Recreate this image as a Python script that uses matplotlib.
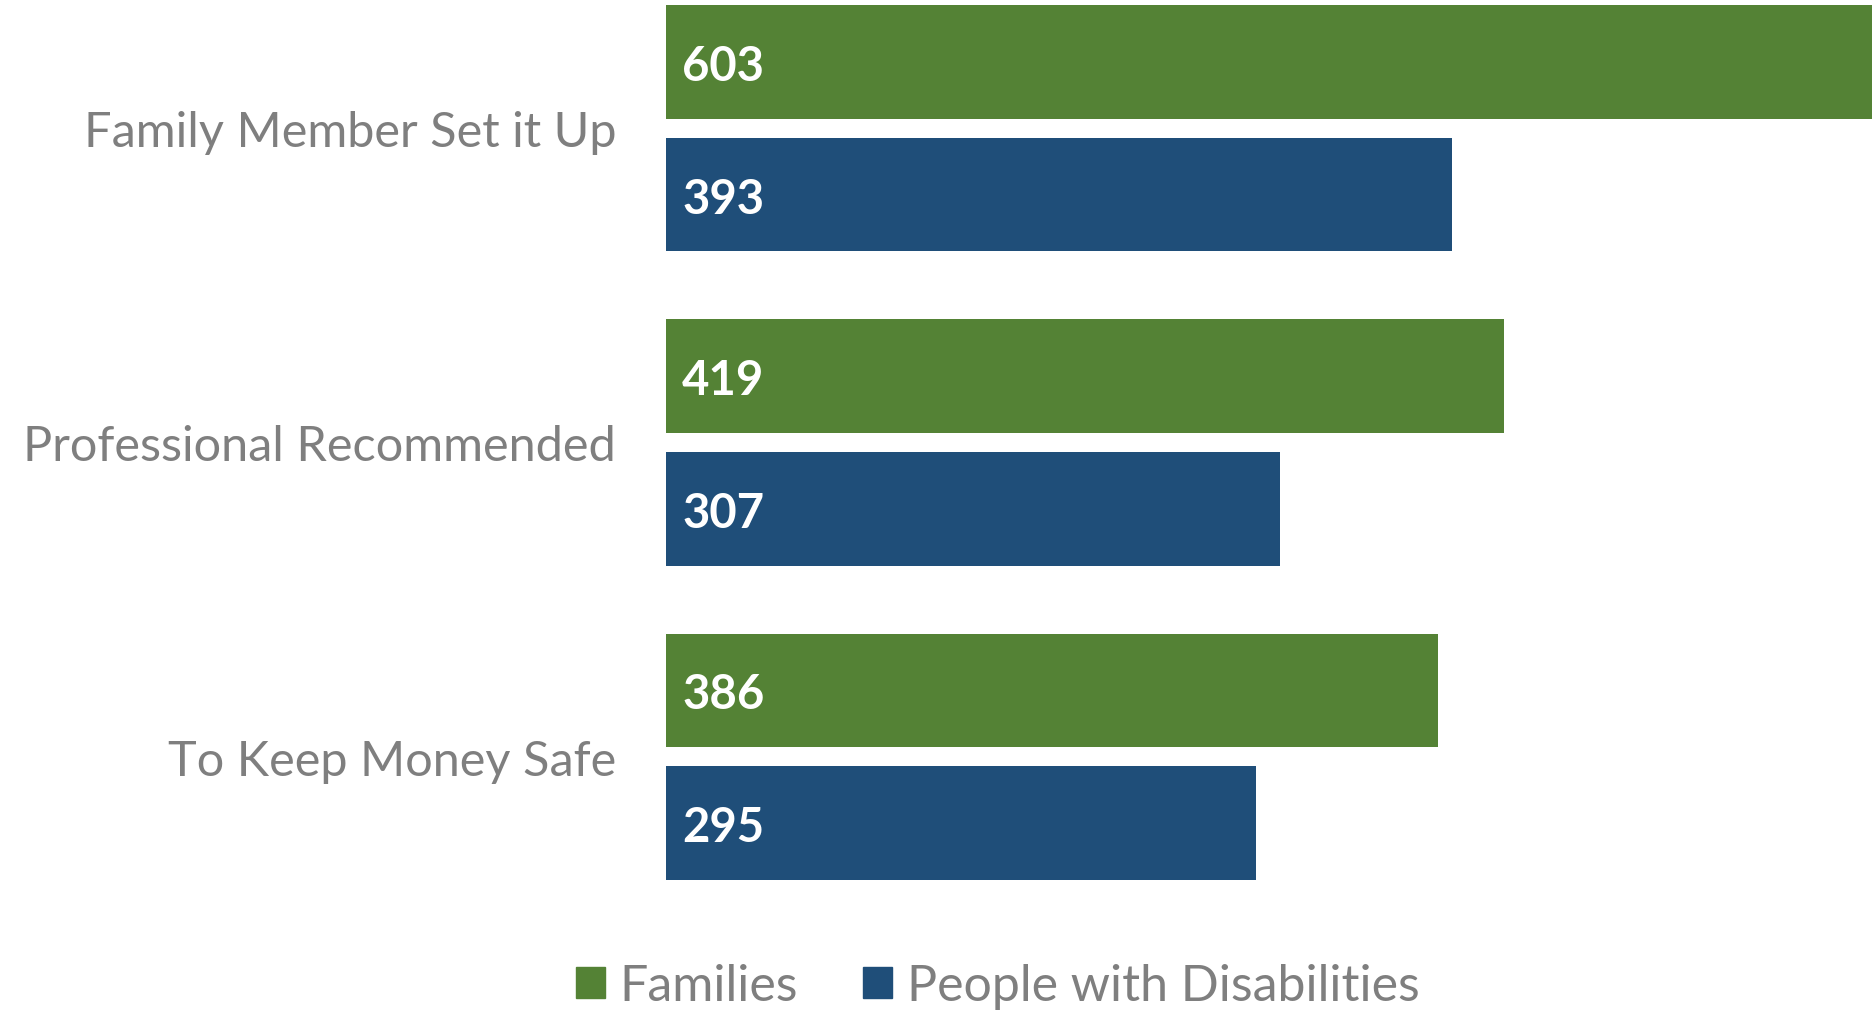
import numpy as np
import matplotlib
matplotlib.use('Agg')
import matplotlib.pyplot as plt
from matplotlib.patches import Patch

# ---------------------------------------------------------------------------
# data
# ---------------------------------------------------------------------------
categories = ['Family Member Set it Up', 'Professional Recommended', 'To Keep Money Safe']
families   = [603, 419, 386]
people     = [393, 307, 295]
series     = ['Families', 'People with Disabilities']

GREEN = '#548235'
BLUE  = '#1F4E79'
GRAY  = '#7F7F7F'

plt.rcParams['font.family'] = ['Lato', 'DejaVu Sans']

fig = plt.figure(figsize=(18.72, 10.12), dpi=100)
ax = fig.add_axes([666 / 1872, 1 - 881 / 1012, 1 - 666 / 1872, (881 - 6) / 1012])

y = np.arange(len(categories))
bh = 0.362
off = 0.211

b1 = ax.barh(y - off, families, height=bh, color=GREEN)
b2 = ax.barh(y + off, people, height=bh, color=BLUE)

for bars, vals in [(b1, families), (b2, people)]:
    for bar, v in zip(bars, vals):
        ax.text(bar.get_x() + 8, bar.get_y() + bar.get_height() / 2, str(v),
                color='white', fontsize=34, fontweight='bold',
                va='center_baseline', ha='left')

ax.set_xlim(0, max(families))
ax.set_ylim(len(categories) - 1 + off + bh / 2, -off - bh / 2)
ax.set_yticks(y)
ax.set_yticklabels(categories, fontsize=35, color=GRAY)
ax.tick_params(axis='y', length=0, pad=36)
ax.set_xticks([])
for s in ax.spines.values():
    s.set_visible(False)

handles = [Patch(color=GREEN), Patch(color=BLUE)]
fig.legend(handles, series, loc='center', bbox_to_anchor=(0.533, 0.025),
           ncol=2, frameon=False, fontsize=36, labelcolor=GRAY,
           handlelength=0.58, handleheight=0.58, handletextpad=0.3,
           columnspacing=1.3)

fig.savefig('out.png', dpi=100)
